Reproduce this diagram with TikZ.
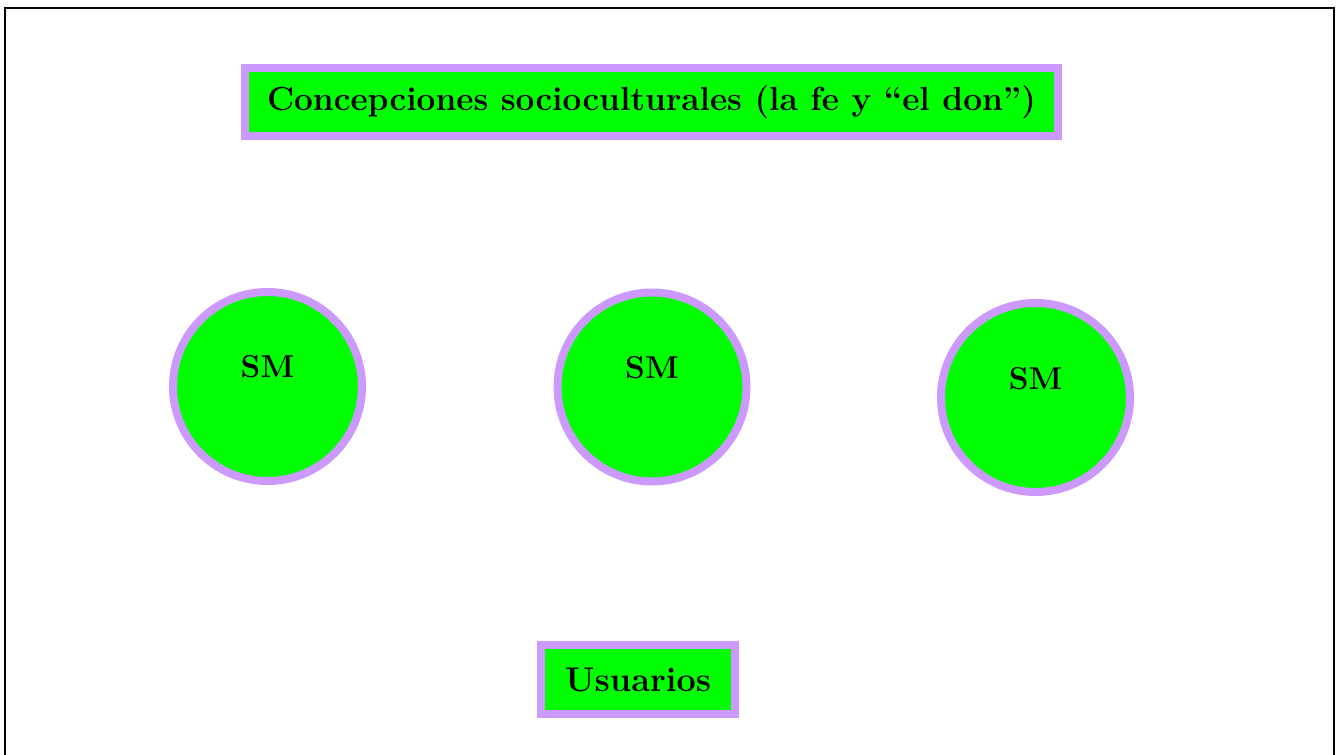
\documentclass[tikz,border=0pt]{standalone}
\usepackage{tikz}

\definecolor{boxgreen}{RGB}{0,255,0}
\definecolor{lilac}{RGB}{204,153,255}

\begin{document}
\begin{tikzpicture}[thick]
    %
    % `panel' is used for the rectangular boxes.
    % `ring' is used for the SM circles.
    % `frame' is used for the outer border.
    \tikzstyle{panel} = [draw=lilac,fill=boxgreen,line width=0.16cm,inner sep=0pt,font=\fontsize{19}{23}\selectfont\bfseries]
    \tikzstyle{ring} = [draw=lilac,fill=boxgreen,line width=0.16cm,shape=circle,minimum size=3.78cm,inner sep=0pt]
    \tikzstyle{ringtext} = [font=\fontsize{18}{22}\selectfont\bfseries,inner sep=0pt]
    \tikzstyle{frame} = [draw=black,line width=0.04cm]
    %
    % Page size
    \useasboundingbox (0,0) rectangle (26.76,15.10);
    %
    % Outer border
    \coordinate (f1) at (0.10,0);
    \coordinate (f2) at (0.10,14.94);
    \coordinate (f3) at (26.68,14.94);
    \coordinate (f4) at (26.68,0);
    \draw[frame] (f1) -- (f2) -- (f3) -- (f4);
    %
    % Title
    \node[panel,minimum width=16.26cm,minimum height=1.36cm] (title) at (13.03,13.06) {Concepciones socioculturales (la fe y ``el don'')};
    %
    % Circles
    \node[ring] (sm1) at (5.35,7.37) {};
    \node[ring] (sm2) at (13.04,7.36) {};
    \node[ring] (sm3) at (20.71,7.15) {};
    \node[ringtext] (sm1t) at ([yshift=0.39cm]sm1.center) {SM};
    \node[ringtext] (sm2t) at ([yshift=0.39cm]sm2.center) {SM};
    \node[ringtext] (sm3t) at ([yshift=0.37cm]sm3.center) {SM};
    %
    % Users
    \node[panel,minimum width=3.88cm,minimum height=1.38cm,font=\fontsize{19.5}{23}\selectfont\bfseries] (users) at (12.76,1.51) {Usuarios};
    %
\end{tikzpicture}
\end{document}
